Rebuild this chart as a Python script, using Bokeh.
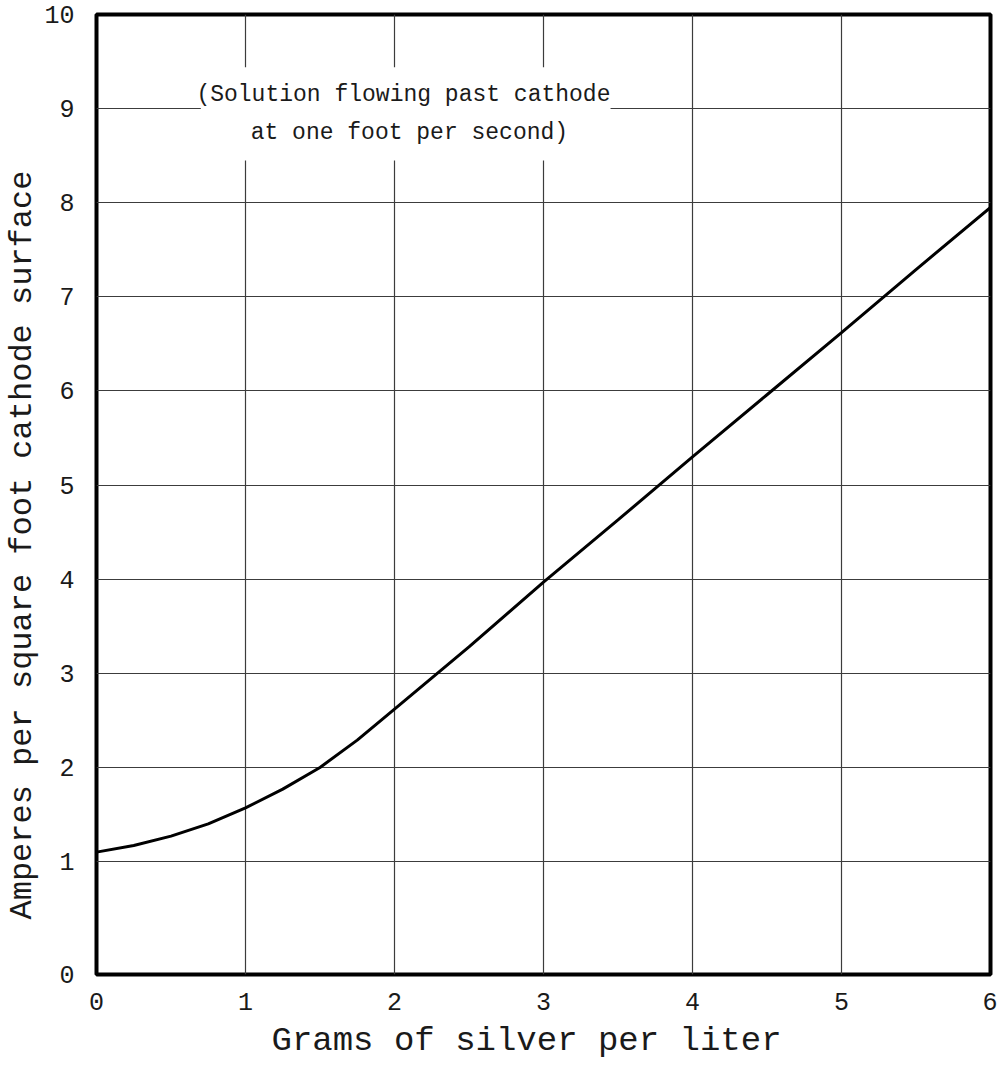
from bokeh.plotting import figure
from bokeh.models import Label, BoxAnnotation, FixedTicker, Title
from bokeh.embed import file_html
from bokeh.resources import INLINE

# Data
grams = [0, 0.25, 0.5, 0.75, 1.0, 1.25, 1.5, 1.75, 2.0, 2.5, 3.0, 3.5, 4.0, 4.5, 5.0, 5.5, 6.0]
amperes = [1.10, 1.17, 1.27, 1.40, 1.57, 1.77, 2.00, 2.29, 2.62, 3.28, 3.97, 4.63, 5.30, 5.96, 6.62, 7.29, 7.95]

x_ticks = [0, 1, 2, 3, 4, 5, 6]
# the hand-drawn original has its "0" line a little below a uniform spacing
y_ticks = [-0.2, 1, 2, 3, 4, 5, 6, 7, 8, 9, 10]
y_tick_labels = {-0.2: "0"}

x_title = "Grams of silver per liter"
y_title = "Amperes per square foot cathode surface"
note_line1 = "(Solution flowing past cathode"
note_line2 = "at one foot per second)"

FONT = "Liberation Mono"
INK = "#1a1a1a"

p = figure(width=997, height=1066, x_range=(0, 6), y_range=(-0.2, 10),
           output_backend="svg", toolbar_location=None,
           min_border_left=93, min_border_right=7, min_border_top=14, min_border_bottom=91)

p.background_fill_color = "white"
p.border_fill_color = "white"
p.outline_line_color = "black"
p.outline_line_width = 4

p.xaxis.ticker = FixedTicker(ticks=x_ticks)
p.yaxis.ticker = FixedTicker(ticks=y_ticks)
p.xgrid.ticker = FixedTicker(ticks=x_ticks)
p.ygrid.ticker = FixedTicker(ticks=y_ticks)
p.yaxis.major_label_overrides = y_tick_labels

for g in (p.xgrid, p.ygrid):
    g.grid_line_color = "#3c3c3c"
    g.grid_line_width = 1.2
    g.grid_line_alpha = 1.0

for ax in (p.xaxis, p.yaxis):
    ax.axis_line_color = None
    ax.major_tick_line_color = None
    ax.minor_tick_line_color = None
    ax.major_label_text_font = FONT
    ax.major_label_text_font_size = "25px"
    ax.major_label_text_color = INK

p.xaxis.major_label_standoff = 12
p.yaxis.major_label_standoff = 16

ytitle = Title(text=y_title, align="left", offset=55, standoff=2,
               text_font=FONT, text_font_size="32px", text_font_style="normal",
               text_color=INK)
p.add_layout(ytitle, "left")

xtitle = Title(text=x_title, align="left", offset=175, standoff=14,
               text_font=FONT, text_font_size="34px", text_font_style="normal",
               text_color=INK)
p.add_layout(xtitle, "below")

p.line(grams, amperes, line_width=3, line_color="black")

box = BoxAnnotation(left=0.7, right=3.45, bottom=8.45, top=9.44,
                    fill_color="white", fill_alpha=1.0, line_color=None)
p.add_layout(box)

for txt, xx, yy in ((note_line1, 2.06, 9.15), (note_line2, 2.10, 8.74)):
    p.add_layout(Label(x=xx, y=yy, text=txt, text_align="center", text_baseline="middle",
                       text_font=FONT, text_font_size="23px", text_color=INK))

open("out.html", "w").write(file_html(p, INLINE))
